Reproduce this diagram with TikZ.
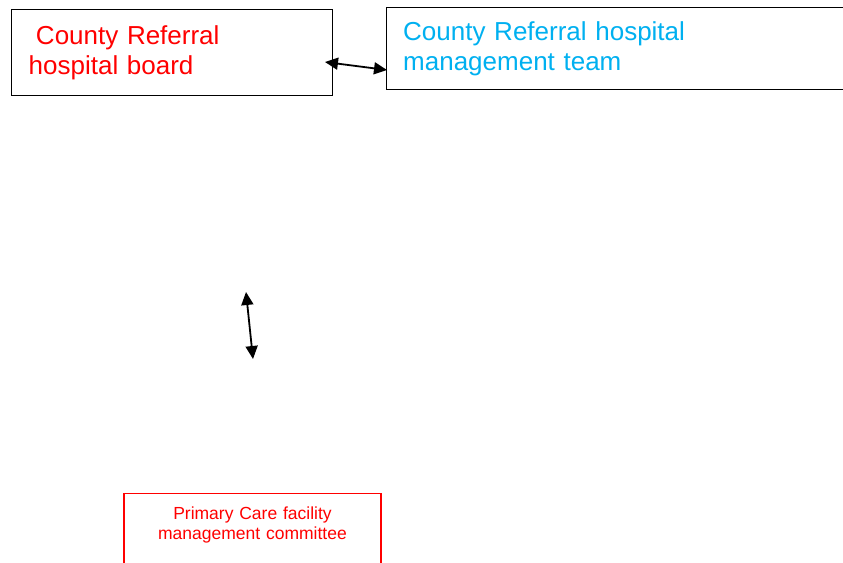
\documentclass[tikz,border=0pt]{standalone}
\usepackage{fontspec}
\setmainfont{Liberation Sans}
\usepackage{xcolor}
\usepackage{tikz}
\usetikzlibrary{arrows.meta, positioning, calc}
\definecolor{boardred}{RGB}{255,0,0}
\definecolor{teamblue}{RGB}{0,176,240}

\begin{document}
\begin{tikzpicture}[x=1pt,y=-1pt,>={Triangle[length=13pt,width=12pt]},
			main node/.style={rectangle,draw=black,line width=1.4pt,align=left},
			big text/.style={font=\fontsize{26}{30.5}\selectfont},
			small text/.style={font=\fontsize{17.5}{20}\selectfont}]
			
			\useasboundingbox (0,0) rectangle (843,562);
			
			\node[main node,big text,text=boardred,anchor=north west,minimum width=321pt,
				minimum height=86pt,inner xsep=17pt,text width=287pt] (0) at (11,9)
				{\hspace*{0.28em}County Referral\\hospital board};
			\node[main node,big text,text=teamblue,minimum width=480pt,minimum height=82pt,
				inner xsep=16.5pt,text width=447pt] (1) [right=52.6pt of 0.north east,anchor=north west,yshift=2pt]
				{County Referral hospital\\management team};
			\node[main node,draw=boardred,small text,text=boardred,align=center,anchor=north,
				inner xsep=5pt,inner ysep=13pt,text width=247pt,text depth=45pt] (2) at (252.5,493)
				{Primary Care facility\\management committee};
			
			\coordinate (a) at (325,62);
			\coordinate (b) at (387,70);
			\coordinate (c) at (246,292);
			\coordinate (d) at (253,359);
			
			\path[<->,line width=1.8pt]
			(a) edge (b)
			(c) edge (d);
		\end{tikzpicture}
\end{document}
